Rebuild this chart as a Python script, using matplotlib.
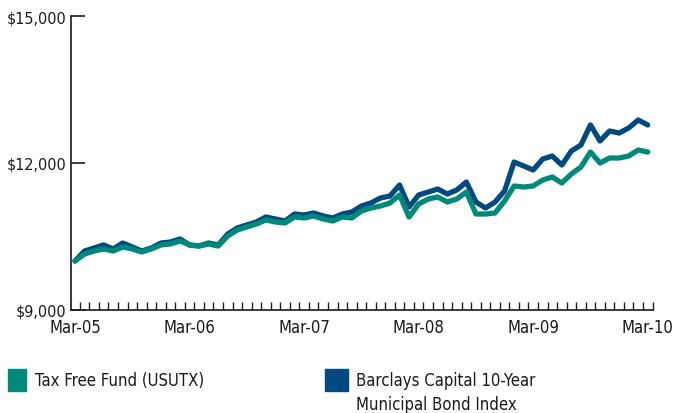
import numpy as np
import matplotlib
matplotlib.use("Agg")
import matplotlib.pyplot as plt
from matplotlib.patches import Rectangle
from matplotlib import font_manager

# monthly growth of $10,000, Mar-05 .. Mar-10
fund = [10000, 10143, 10204, 10245, 10204, 10286, 10245, 10184, 10245, 10327,
        10347, 10408, 10327, 10306, 10347, 10306, 10510, 10633, 10694, 10755,
        10837, 10796, 10776, 10898, 10878, 10918, 10857, 10816, 10898, 10878,
        11020, 11082, 11122, 11184, 11347, 10898, 11163, 11265, 11306, 11204,
        11265, 11408, 10959, 10959, 10980, 11224, 11531, 11510, 11531, 11653,
        11714, 11592, 11776, 11918, 12224, 12000, 12102, 12102, 12143, 12265,
        12224]
index = [10000, 10204, 10265, 10327, 10245, 10367, 10286, 10204, 10265, 10367,
         10388, 10449, 10327, 10306, 10367, 10327, 10551, 10673, 10735, 10796,
         10898, 10857, 10816, 10959, 10939, 10980, 10918, 10878, 10959, 11000,
         11122, 11184, 11286, 11327, 11551, 11102, 11347, 11408, 11469, 11367,
         11449, 11612, 11204, 11082, 11204, 11429, 12020, 11939, 11857, 12082,
         12143, 11959, 12245, 12367, 12776, 12449, 12653, 12612, 12714, 12878,
         12776]
year_labels = ["Mar-05", "Mar-06", "Mar-07", "Mar-08", "Mar-09", "Mar-10"]
y_ticks = [9000, 12000, 15000]
y_labels = ["$9,000", "$12,000", "$15,000"]
names = ["Tax Free Fund (USUTX)", "Barclays Capital 10-Year\nMunicipal Bond Index"]

teal = "#00897a"
blue = "#004a80"
ink = "#1a1a1a"

# look for a narrow face, else fall back
fams = set(f.name for f in font_manager.fontManager.ttflist)
narrow = [f for f in ["Liberation Sans Narrow", "DejaVu Sans Condensed"] if f in fams]
if narrow:
    plt.rcParams["font.family"] = [narrow[0], "DejaVu Sans"]
    fs = 14
else:
    plt.rcParams["font.family"] = ["DejaVu Sans"]
    plt.rcParams["font.stretch"] = "condensed"
    fs = 12

fig = plt.figure(figsize=(6.76, 4.14), dpi=100)
ax = fig.add_axes([71 / 676, 1 - 311 / 414, (653 - 71) / 676, (311 - 17) / 414])

x = np.arange(len(fund))
ax.plot(x, index, color=blue, lw=3.8, solid_capstyle="round", solid_joinstyle="round")
ax.plot(x, fund, color=teal, lw=3.8, solid_capstyle="round", solid_joinstyle="round")

ax.set_ylim(9000, 15000)
ax.set_xlim(-0.42, 60.55)
for s in ["top", "right"]:
    ax.spines[s].set_visible(False)
for s in ["left", "bottom"]:
    ax.spines[s].set_color(ink)
    ax.spines[s].set_linewidth(1.2)

ax.set_yticks(y_ticks)
ax.set_yticklabels(y_labels, fontsize=fs - 0.5, color=ink)
ax.tick_params(axis="y", direction="in", length=10, width=1.2, color=ink, pad=3)

ax.set_xticks(np.arange(0, 61, 12))
ax.set_xticklabels(year_labels, fontsize=fs, color=ink)
ax.tick_params(axis="x", which="major", length=0, pad=6)
ax.set_xticks(np.arange(61) + 0.5, minor=True)
ax.tick_params(axis="x", which="minor", direction="in", length=5.5, width=1.0, color=ink)

# legend
fig.patches.append(Rectangle((8 / 676, 1 - 392 / 414), 18 / 676, 22 / 414,
                             transform=fig.transFigure, color=teal))
fig.text(35 / 676, 1 - 381 / 414, names[0], fontsize=fs, va="center", color=ink)
fig.patches.append(Rectangle((325 / 676, 1 - 392 / 414), 23 / 676, 22 / 414,
                             transform=fig.transFigure, color=blue))
fig.text(356 / 676, 1 - 372 / 414, names[1], fontsize=fs, va="top", color=ink,
         linespacing=1.4)

fig.savefig("out.png", dpi=100)
